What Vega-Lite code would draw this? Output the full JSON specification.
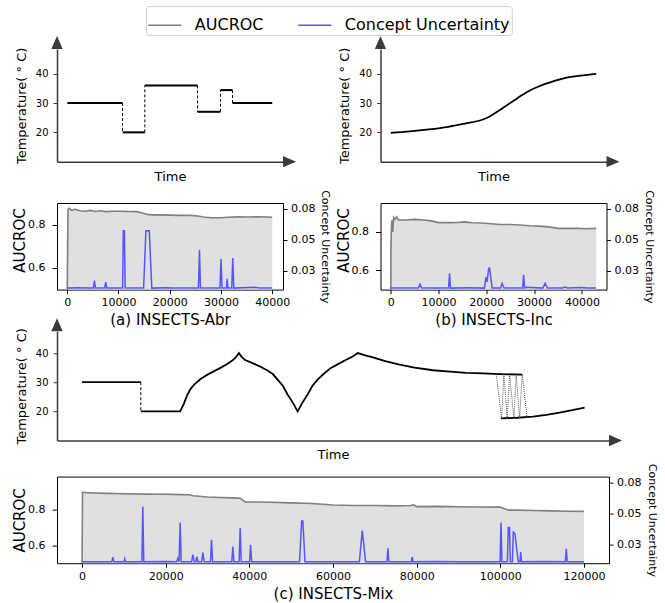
{
"$schema": "https://vega.github.io/schema/vega-lite/v6.json",
"padding": {"left": 12, "top": 5, "right": 5, "bottom": 0},
"config": {
  "font": "DejaVu Sans",
  "view": {"stroke": null},
  "axis": {"grid": false, "labelFont": "DejaVu Sans", "titleFont": "DejaVu Sans", "labelColor": "black", "titleColor": "black", "titleFontWeight": "normal", "tickColor": "black", "domainColor": "black"}
},
"spacing": -10.8,
"vconcat": [
 {"hconcat": [
   {"vconcat": [
     {"width": 226, "height": 112.7,
      "encoding": {
        "x": {"field": "t", "type": "quantitative", "scale": {"domain": [-2000, 42100], "nice": false, "zero": false}, "axis": {"title": "Time", "titleFontSize": 13, "titlePadding": 9, "ticks": false, "labels": false, "domainColor": "#3a3a3a", "domainWidth": 1.5}},
        "y": {"field": "temp", "type": "quantitative", "scale": {"domain": [10, 48.4], "nice": false, "zero": false}, "axis": {"title": "Temperature( ° C)", "values": [20, 30, 40], "tickSize": 4, "tickColor": "#3a3a3a", "labelFontSize": 10, "labelPadding": 5, "titleFontSize": 13, "titlePadding": 7, "domainColor": "#3a3a3a", "domainWidth": 1.5}}},
      "layer": [
       {"data": {"values": [
         {"seg":"s1","t":0,"temp":30},{"seg":"s1","t":10790,"temp":30},
         {"seg":"s2","t":10790,"temp":20},{"seg":"s2","t":15140,"temp":20},
         {"seg":"s3","t":15140,"temp":36},{"seg":"s3","t":25430,"temp":36},
         {"seg":"s4","t":25430,"temp":27},{"seg":"s4","t":29900,"temp":27},
         {"seg":"s5","t":29900,"temp":34.4},{"seg":"s5","t":32250,"temp":34.4},
         {"seg":"s6","t":32250,"temp":30},{"seg":"s6","t":40000,"temp":30}]},
        "mark": {"type": "line", "color": "black", "strokeWidth": 2},
        "encoding": {"detail": {"field": "seg"}}},
       {"data": {"values": [
         {"t":10790,"temp":30,"temp2":20},{"t":15140,"temp":20,"temp2":36},{"t":25430,"temp":36,"temp2":27},{"t":29900,"temp":27,"temp2":34.4},{"t":32250,"temp":34.4,"temp2":30}]},
        "mark": {"type": "rule", "color": "black", "strokeWidth": 1, "strokeDash": [3, 2]},
        "encoding": {"y2": {"field": "temp2"}}},
       {"data": {"values": [{"t": -2000, "temp": 48.4, "dir": "up"}, {"t": 42100, "temp": 10, "dir": "right"}]},
        "mark": {"type": "point", "filled": true, "size": 169, "opacity": 1, "color": "#3a3a3a", "clip": false},
        "encoding": {"shape": {"field": "dir", "type": "nominal", "scale": {"domain": ["up", "right"], "range": ["M0,-2L-0.87,0L0.87,0Z", "M2,0L0,-0.87L0,0.87Z"]}, "legend": null}}}
      ]},
     {"width": 226, "height": 86.6,
      "view": {"stroke": "black", "strokeWidth": 1},
      "encoding": {
        "x": {"field": "t", "type": "quantitative", "scale": {"domain": [-2000, 42100], "nice": false, "zero": false}, "axis": {"values": [0, 10000, 20000, 30000, 40000], "format": "d", "labelFontSize": 11, "tickSize": 4, "labelPadding": 3, "domain": false, "title": "(a) INSECTS-Abr", "titleFontSize": 15, "titlePadding": 5}}},
      "layer": [
       {"data": {"values": [{"t":0,"v":0.5},{"t":150,"v":0.87},{"t":400,"v":0.876},{"t":800,"v":0.866},{"t":1500,"v":0.871},{"t":2500,"v":0.864},{"t":3500,"v":0.862},{"t":4500,"v":0.866},{"t":5500,"v":0.861},{"t":6500,"v":0.864},{"t":7500,"v":0.86},{"t":9000,"v":0.862},{"t":10500,"v":0.862},{"t":12000,"v":0.861},{"t":13500,"v":0.86},{"t":14500,"v":0.855},{"t":15500,"v":0.848},{"t":16500,"v":0.845},{"t":18000,"v":0.845},{"t":20000,"v":0.844},{"t":22000,"v":0.843},{"t":24000,"v":0.843},{"t":25500,"v":0.84},{"t":26500,"v":0.835},{"t":28000,"v":0.832},{"t":30000,"v":0.832},{"t":31500,"v":0.834},{"t":33000,"v":0.836},{"t":35000,"v":0.835},{"t":37000,"v":0.836},{"t":39000,"v":0.835},{"t":40000,"v":0.834}]},
        "encoding": {"y": {"field": "v", "type": "quantitative", "scale": {"domain": [0.5, 0.9], "nice": false, "zero": false}, "axis": {"values": [0.6, 0.8], "format": ".1f", "labelFontSize": 11, "tickSize": 5, "labelPadding": 7, "domain": false, "title": "AUCROC", "titleFontSize": 15, "titlePadding": 0, "titleY": 37}}},
        "layer": [
         {"mark": {"type": "area", "color": "#e0e0e0"}, "encoding": {"y2": {"datum": 0.5}}},
         {"mark": {"type": "line", "strokeWidth": 1.6},
          "encoding": {
            "color": {"datum": "AUCROC", "scale": {"domain": ["AUCROC", "Concept Uncertainty"], "range": ["#7f7f7f", "#5555ff"]},
              "legend": {"orient": "none", "legendX": 88.8, "legendY": -43, "direction": "horizontal", "columns": 2, "title": null, "symbolType": "stroke", "symbolSize": 1100, "symbolStrokeWidth": 1.5, "labelFontSize": 16, "labelFont": "DejaVu Sans", "labelColor": "black", "labelOffset": 12.5, "labelLimit": 400, "columnPadding": 30, "padding": 1.5, "strokeColor": "#d0d0d0", "cornerRadius": 3, "fillColor": "white"}}}}
        ]},
       {"data": {"values": [{"t":0,"u":0.011},{"t":2000,"u":0.0112},{"t":5100,"u":0.011},{"t":5300,"u":0.017},{"t":5500,"u":0.011},{"t":7300,"u":0.011},{"t":7500,"u":0.0158},{"t":7700,"u":0.011},{"t":10800,"u":0.011},{"t":10950,"u":0.0573},{"t":11150,"u":0.0573},{"t":11300,"u":0.011},{"t":14900,"u":0.011},{"t":15350,"u":0.0573},{"t":16000,"u":0.0573},{"t":16500,"u":0.011},{"t":19500,"u":0.0113},{"t":20500,"u":0.011},{"t":25600,"u":0.011},{"t":25800,"u":0.042},{"t":26000,"u":0.011},{"t":29800,"u":0.011},{"t":30000,"u":0.0344},{"t":30200,"u":0.011},{"t":31050,"u":0.011},{"t":31200,"u":0.0185},{"t":31350,"u":0.011},{"t":32100,"u":0.011},{"t":32300,"u":0.0352},{"t":32500,"u":0.011},{"t":36500,"u":0.0116},{"t":37500,"u":0.011},{"t":40000,"u":0.011}]},
        "mark": {"type": "line", "strokeWidth": 1.5},
        "encoding": {
          "y": {"field": "u", "type": "quantitative", "scale": {"domain": [0.0098, 0.0797], "nice": false, "zero": false}, "axis": {"orient": "right", "values": [0.025, 0.05, 0.075], "labelExpr": "format(datum.value + 0.0001, '.2f')", "labelFontSize": 11, "tickSize": 4, "labelPadding": 3.5, "domain": false, "title": "Concept Uncertainty", "titleFontSize": 11, "titlePadding": 5}},
          "color": {"datum": "Concept Uncertainty"}}}
      ],
      "resolve": {"scale": {"y": "independent"}}}
   ], "spacing": 41, "bounds": "flush"},
   {"vconcat": [
     {"width": 226, "height": 112.7,
      "encoding": {
        "x": {"field": "t", "type": "quantitative", "scale": {"domain": [-2150, 45150], "nice": false, "zero": false}, "axis": {"title": "Time", "titleFontSize": 13, "titlePadding": 9, "ticks": false, "labels": false, "domainColor": "#3a3a3a", "domainWidth": 1.5}},
        "y": {"field": "temp", "type": "quantitative", "scale": {"domain": [10, 48.4], "nice": false, "zero": false}, "axis": {"title": "Temperature( ° C)", "values": [20, 30, 40], "tickSize": 4, "tickColor": "#3a3a3a", "labelFontSize": 10, "labelPadding": 5, "titleFontSize": 13, "titlePadding": 7, "domainColor": "#3a3a3a", "domainWidth": 1.5}}},
      "layer": [
       {"data": {"values": [
         {"t":0,"temp":19.8},{"t":4000,"temp":20.3},{"t":8000,"temp":21.0},{"t":12000,"temp":21.9},{"t":15500,"temp":23.0},{"t":18950,"temp":24.2},{"t":20800,"temp":25.5},{"t":22440,"temp":27.2},{"t":24000,"temp":28.9},{"t":25580,"temp":30.6},{"t":27500,"temp":32.7},{"t":29400,"temp":34.5},{"t":31200,"temp":35.8},{"t":32900,"temp":36.8},{"t":34600,"temp":37.7},{"t":36360,"temp":38.5},{"t":39700,"temp":39.3},{"t":43000,"temp":39.9}]},
        "mark": {"type": "line", "color": "black", "strokeWidth": 1.8, "interpolate": "monotone"}},
       {"data": {"values": [{"t": -2150, "temp": 48.4, "dir": "up"}, {"t": 45150, "temp": 10, "dir": "right"}]},
        "mark": {"type": "point", "filled": true, "size": 169, "opacity": 1, "color": "#3a3a3a", "clip": false},
        "encoding": {"shape": {"field": "dir", "type": "nominal", "scale": {"domain": ["up", "right"], "range": ["M0,-2L-0.87,0L0.87,0Z", "M2,0L0,-0.87L0,0.87Z"]}, "legend": null}}}
      ]},
     {"width": 226, "height": 86.6,
      "view": {"stroke": "black", "strokeWidth": 1},
      "encoding": {
        "x": {"field": "t", "type": "quantitative", "scale": {"domain": [-2150, 45150], "nice": false, "zero": false}, "axis": {"values": [0, 10000, 20000, 30000, 40000], "format": "d", "labelFontSize": 11, "tickSize": 4, "labelPadding": 3, "domain": false, "title": "(b) INSECTS-Inc", "titleFontSize": 15, "titlePadding": 5}}},
      "layer": [
       {"data": {"values": [{"t":0,"v":0.5},{"t":50,"v":0.75},{"t":200,"v":0.86},{"t":400,"v":0.8},{"t":600,"v":0.875},{"t":900,"v":0.865},{"t":1200,"v":0.878},{"t":1600,"v":0.862},{"t":3000,"v":0.862},{"t":5000,"v":0.865},{"t":7000,"v":0.862},{"t":8500,"v":0.857},{"t":10000,"v":0.848},{"t":12000,"v":0.848},{"t":14000,"v":0.849},{"t":15500,"v":0.852},{"t":17000,"v":0.847},{"t":19000,"v":0.846},{"t":21000,"v":0.842},{"t":23000,"v":0.838},{"t":25000,"v":0.838},{"t":27000,"v":0.836},{"t":29000,"v":0.832},{"t":31000,"v":0.83},{"t":33000,"v":0.826},{"t":35000,"v":0.818},{"t":37000,"v":0.818},{"t":39000,"v":0.818},{"t":41000,"v":0.816},{"t":43000,"v":0.818}]},
        "encoding": {"y": {"field": "v", "type": "quantitative", "scale": {"domain": [0.5, 0.95], "nice": false, "zero": false}, "axis": {"values": [0.6, 0.8], "format": ".1f", "labelFontSize": 11, "tickSize": 5, "labelPadding": 7, "domain": false, "title": "AUCROC", "titleFontSize": 15, "titlePadding": 0, "titleY": 37}}},
        "layer": [
         {"mark": {"type": "area", "color": "#e0e0e0"}, "encoding": {"y2": {"datum": 0.5}}},
         {"mark": {"type": "line", "strokeWidth": 1.6, "color": "#7f7f7f"}}
        ]},
       {"data": {"values": [{"t":0,"u":0.011},{"t":5800,"u":0.011},{"t":6100,"u":0.0142},{"t":6500,"u":0.011},{"t":12100,"u":0.011},{"t":12300,"u":0.023},{"t":12500,"u":0.011},{"t":16000,"u":0.0113},{"t":19600,"u":0.011},{"t":19900,"u":0.0199},{"t":20150,"u":0.016},{"t":20500,"u":0.027},{"t":20700,"u":0.027},{"t":21200,"u":0.011},{"t":23000,"u":0.011},{"t":23300,"u":0.0148},{"t":23700,"u":0.011},{"t":27600,"u":0.011},{"t":27800,"u":0.0218},{"t":28000,"u":0.011},{"t":28300,"u":0.0116},{"t":31800,"u":0.011},{"t":32300,"u":0.0148},{"t":32800,"u":0.011},{"t":36000,"u":0.011},{"t":36500,"u":0.012},{"t":37000,"u":0.011},{"t":40000,"u":0.0115},{"t":41000,"u":0.011},{"t":43000,"u":0.011}]},
        "mark": {"type": "line", "strokeWidth": 1.5, "color": "#5555ff"},
        "encoding": {
          "y": {"field": "u", "type": "quantitative", "scale": {"domain": [0.0098, 0.0797], "nice": false, "zero": false}, "axis": {"orient": "right", "values": [0.025, 0.05, 0.075], "labelExpr": "format(datum.value + 0.0001, '.2f')", "labelFontSize": 11, "tickSize": 4, "labelPadding": 3.5, "domain": false, "title": "Concept Uncertainty", "titleFontSize": 11, "titlePadding": 5}}}}
      ],
      "resolve": {"scale": {"y": "independent"}}}
   ], "spacing": 41, "bounds": "flush"}
  ], "spacing": 3.5},
 {"vconcat": [
   {"width": 552, "height": 109.3,
    "encoding": {
      "x": {"field": "t", "type": "quantitative", "scale": {"domain": [-6000, 126000], "nice": false, "zero": false}, "axis": {"title": "Time", "titleFontSize": 13, "titlePadding": 7.5, "ticks": false, "labels": false, "domainColor": "#3a3a3a", "domainWidth": 1.5}},
      "y": {"field": "temp", "type": "quantitative", "scale": {"domain": [10, 47.5], "nice": false, "zero": false}, "axis": {"title": "Temperature( ° C)", "values": [20, 30, 40], "tickSize": 4, "tickColor": "#3a3a3a", "labelFontSize": 10, "labelPadding": 5, "titleFontSize": 13, "titlePadding": 7, "domainColor": "#3a3a3a", "domainWidth": 1.5}}},
    "layer": [
     {"data": {"values": [
       {"seg":"a","t":0,"temp":30},{"seg":"a","t":14040,"temp":30},
       {"seg":"b","t":14040,"temp":20},{"seg":"b","t":23440,"temp":20},{"seg":"b","t":24300,"temp":22.5},{"seg":"b","t":25210,"temp":25.8},{"seg":"b","t":26000,"temp":27.8},{"seg":"b","t":26800,"temp":29.2},{"seg":"b","t":28400,"temp":31.2},{"seg":"b","t":30000,"temp":32.6},{"seg":"b","t":31580,"temp":33.8},{"seg":"b","t":33200,"temp":35.0},{"seg":"b","t":34780,"temp":36.3},{"seg":"b","t":36000,"temp":37.5},{"seg":"b","t":36800,"temp":38.6},{"seg":"b","t":37490,"temp":40.0},{"seg":"b","t":38200,"temp":38.6},{"seg":"b","t":39000,"temp":37.6},{"seg":"b","t":41150,"temp":36.3},{"seg":"b","t":42800,"temp":35.2},{"seg":"b","t":44350,"temp":34.0},{"seg":"b","t":45600,"temp":32.8},{"seg":"b","t":46740,"temp":30.9},{"seg":"b","t":48000,"temp":28.8},{"seg":"b","t":49130,"temp":25.8},{"seg":"b","t":50400,"temp":23.0},{"seg":"b","t":51530,"temp":20.0},{"seg":"b","t":52700,"temp":23.0},{"seg":"b","t":53920,"temp":25.8},{"seg":"b","t":55100,"temp":28.8},{"seg":"b","t":56310,"temp":30.9},{"seg":"b","t":57800,"temp":32.9},{"seg":"b","t":59500,"temp":34.9},{"seg":"b","t":61300,"temp":36.3},{"seg":"b","t":63150,"temp":37.7},{"seg":"b","t":64700,"temp":38.8},{"seg":"b","t":65950,"temp":40.0},{"seg":"b","t":67700,"temp":39.2},{"seg":"b","t":69540,"temp":38.5},{"seg":"b","t":72500,"temp":37.2},{"seg":"b","t":75920,"temp":36.0},{"seg":"b","t":79500,"temp":35.0},{"seg":"b","t":83890,"temp":34.1},{"seg":"b","t":88000,"temp":33.6},{"seg":"b","t":91860,"temp":33.2},{"seg":"b","t":96000,"temp":33.0},{"seg":"b","t":99830,"temp":32.8},{"seg":"b","t":105250,"temp":32.6},
       {"seg":"c","t":100100,"temp":17.6},{"seg":"c","t":104000,"temp":17.8},{"seg":"c","t":107800,"temp":18.2},{"seg":"c","t":111000,"temp":18.8},{"seg":"c","t":114200,"temp":19.6},{"seg":"c","t":117200,"temp":20.4},{"seg":"c","t":120160,"temp":21.3}]},
      "mark": {"type": "line", "color": "black", "strokeWidth": 1.8},
      "encoding": {"detail": {"field": "seg"}}},
     {"data": {"values": [{"t":14040,"temp":30,"temp2":20}]},
      "mark": {"type": "rule", "color": "black", "strokeWidth": 1, "strokeDash": [3, 2]},
      "encoding": {"y2": {"field": "temp2"}}},
     {"data": {"values": [{"t":99030,"temp":32.7},{"t":100320,"temp":17.6},{"t":100870,"temp":32.7},{"t":101660,"temp":17.6},{"t":102230,"temp":32.7},{"t":103260,"temp":17.6},{"t":103820,"temp":32.7},{"t":104620,"temp":17.6},{"t":105250,"temp":32.7},{"t":106450,"temp":17.6}]},
      "mark": {"type": "line", "color": "#555555", "strokeWidth": 1, "strokeDash": [1, 1]}},
     {"data": {"values": [{"t": -6000, "temp": 47.5, "dir": "up"}, {"t": 126000, "temp": 10, "dir": "right"}]},
      "mark": {"type": "point", "filled": true, "size": 169, "opacity": 1, "color": "#3a3a3a", "clip": false},
      "encoding": {"shape": {"field": "dir", "type": "nominal", "scale": {"domain": ["up", "right"], "range": ["M0,-2L-0.87,0L0.87,0Z", "M2,0L0,-0.87L0,0.87Z"]}, "legend": null}}}
    ]},
   {"width": 552, "height": 86.6,
    "view": {"stroke": "black", "strokeWidth": 1},
    "encoding": {
      "x": {"field": "t", "type": "quantitative", "scale": {"domain": [-6000, 126000], "nice": false, "zero": false}, "axis": {"values": [0, 20000, 40000, 60000, 80000, 100000, 120000], "format": "d", "labelFontSize": 11, "tickSize": 4, "labelPadding": 3, "domain": false, "title": "(c) INSECTS-Mix", "titleFontSize": 15, "titlePadding": 5}}},
    "layer": [
     {"data": {"values": [{"t":0,"v":0.5},{"t":100,"v":0.897},{"t":1000,"v":0.895},{"t":3000,"v":0.893},{"t":6000,"v":0.891},{"t":10000,"v":0.889},{"t":15000,"v":0.887},{"t":20000,"v":0.886},{"t":24000,"v":0.884},{"t":25500,"v":0.883},{"t":26500,"v":0.878},{"t":28000,"v":0.875},{"t":30000,"v":0.871},{"t":33000,"v":0.868},{"t":36000,"v":0.866},{"t":37800,"v":0.864},{"t":38300,"v":0.855},{"t":38700,"v":0.848},{"t":39200,"v":0.842},{"t":40500,"v":0.843},{"t":45000,"v":0.841},{"t":50000,"v":0.838},{"t":55000,"v":0.834},{"t":60000,"v":0.826},{"t":65000,"v":0.823},{"t":70000,"v":0.823},{"t":75000,"v":0.821},{"t":78500,"v":0.823},{"t":79300,"v":0.827},{"t":80000,"v":0.817},{"t":85000,"v":0.818},{"t":90000,"v":0.816},{"t":95000,"v":0.815},{"t":100000,"v":0.814},{"t":101000,"v":0.805},{"t":102000,"v":0.797},{"t":104000,"v":0.797},{"t":108000,"v":0.795},{"t":112000,"v":0.793},{"t":116000,"v":0.791},{"t":120000,"v":0.79}]},
      "encoding": {"y": {"field": "v", "type": "quantitative", "scale": {"domain": [0.5, 0.985], "nice": false, "zero": false}, "axis": {"values": [0.6, 0.8], "format": ".1f", "labelFontSize": 11, "tickSize": 5, "labelPadding": 7, "domain": false, "title": "AUCROC", "titleFontSize": 15, "titlePadding": 0}}},
      "layer": [
       {"mark": {"type": "area", "color": "#e0e0e0"}, "encoding": {"y2": {"datum": 0.5}}},
       {"mark": {"type": "line", "strokeWidth": 1.6, "color": "#7f7f7f"}}
      ]},
     {"data": {"values": [{"t":0,"u":0.0113},{"t":7100,"u":0.0113},{"t":7350,"u":0.0151},{"t":7600,"u":0.0113},{"t":10000,"u":0.0113},{"t":10200,"u":0.0138},{"t":10400,"u":0.0113},{"t":14300,"u":0.0113},{"t":14520,"u":0.0559},{"t":14750,"u":0.0113},{"t":20000,"u":0.0116},{"t":22600,"u":0.0113},{"t":22900,"u":0.014},{"t":23200,"u":0.0113},{"t":23450,"u":0.043},{"t":23700,"u":0.0113},{"t":26200,"u":0.0113},{"t":26480,"u":0.0172},{"t":26800,"u":0.0113},{"t":27200,"u":0.0113},{"t":27440,"u":0.0155},{"t":27700,"u":0.0113},{"t":28600,"u":0.0113},{"t":28880,"u":0.0188},{"t":29200,"u":0.0113},{"t":30700,"u":0.0113},{"t":30950,"u":0.029},{"t":31200,"u":0.0113},{"t":35800,"u":0.0113},{"t":36050,"u":0.0236},{"t":36300,"u":0.0113},{"t":37550,"u":0.0113},{"t":37800,"u":0.0385},{"t":38050,"u":0.0113},{"t":40050,"u":0.0113},{"t":40290,"u":0.025},{"t":40550,"u":0.0113},{"t":52000,"u":0.0113},{"t":52500,"u":0.0443},{"t":52800,"u":0.0443},{"t":53300,"u":0.0113},{"t":66300,"u":0.0113},{"t":67000,"u":0.0365},{"t":67800,"u":0.0113},{"t":72900,"u":0.0113},{"t":73140,"u":0.0223},{"t":73350,"u":0.0113},{"t":78750,"u":0.0113},{"t":78950,"u":0.0154},{"t":79150,"u":0.0113},{"t":85000,"u":0.0116},{"t":90000,"u":0.0113},{"t":99950,"u":0.0113},{"t":100170,"u":0.043},{"t":100400,"u":0.0113},{"t":101700,"u":0.0113},{"t":101920,"u":0.039},{"t":102200,"u":0.039},{"t":102400,"u":0.0113},{"t":102900,"u":0.0113},{"t":103110,"u":0.0352},{"t":103500,"u":0.034},{"t":104300,"u":0.0113},{"t":104700,"u":0.0113},{"t":104880,"u":0.0191},{"t":105100,"u":0.0113},{"t":110000,"u":0.0116},{"t":115550,"u":0.0113},{"t":115790,"u":0.0218},{"t":116000,"u":0.0113},{"t":120000,"u":0.0113}]},
      "mark": {"type": "line", "strokeWidth": 1.5, "color": "#5555ff"},
      "encoding": {
        "y": {"field": "u", "type": "quantitative", "scale": {"domain": [0.0102, 0.0801], "nice": false, "zero": false}, "axis": {"orient": "right", "values": [0.025, 0.05, 0.075], "labelExpr": "format(datum.value + 0.0001, '.2f')", "labelFontSize": 11, "tickSize": 4, "labelPadding": 3.5, "domain": false, "title": "Concept Uncertainty", "titleFontSize": 11, "titlePadding": 5.5}}}}
    ],
    "resolve": {"scale": {"y": "independent"}}}
 ], "spacing": 35.4, "bounds": "flush"}
]
}
